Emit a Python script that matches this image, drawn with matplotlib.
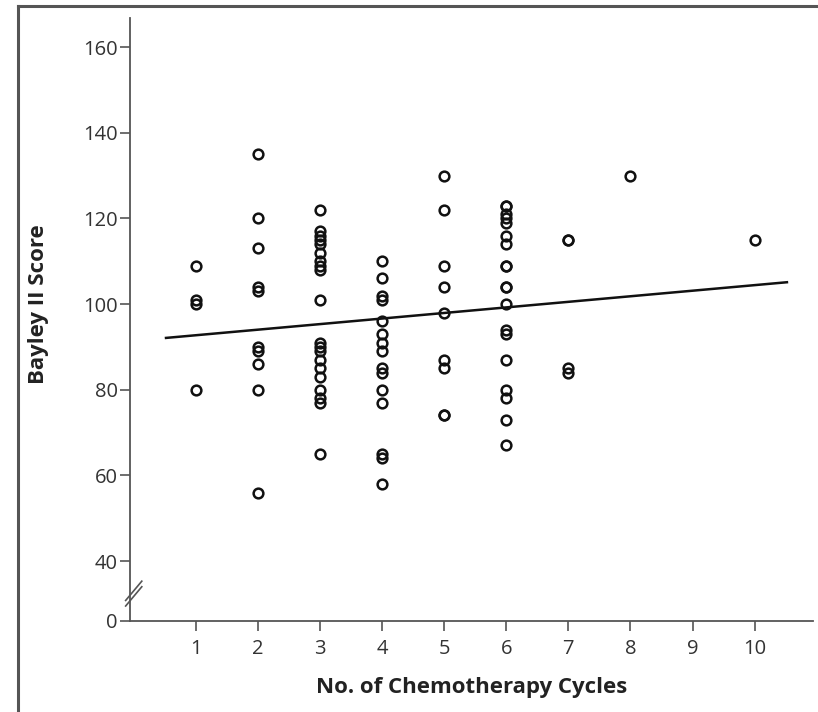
import matplotlib
matplotlib.use("Agg")
import matplotlib.pyplot as plt
from matplotlib.lines import Line2D

plt.rcParams['font.family'] = ['Open Sans', 'DejaVu Sans']

# Bayley II scores per number of chemotherapy cycles
cycles_1 = [109, 101, 100, 80]
cycles_2 = [135, 120, 113, 104, 103, 90, 89, 86, 80, 56]
cycles_3 = [122, 117, 116, 115, 114, 112, 110, 109, 108, 101,
            91, 90, 89, 87, 85, 83, 80, 78, 77, 65]
cycles_4 = [110, 106, 102, 101, 96, 93, 91, 89, 85, 84, 80, 77, 65, 64, 58]
cycles_5 = [130, 122, 109, 104, 98, 87, 85, 74, 74]
cycles_6 = [123, 123, 121, 120, 119, 116, 114, 109, 109, 104, 104, 100,
            94, 93, 87, 80, 78, 73, 67]
cycles_7 = [115, 115, 85, 84]
cycles_8 = [130]
cycles_10 = [115]

groups = {1: cycles_1, 2: cycles_2, 3: cycles_3, 4: cycles_4, 5: cycles_5,
          6: cycles_6, 7: cycles_7, 8: cycles_8, 10: cycles_10}

# regression line end points
fit_x = [0.52, 10.52]
fit_y = [92.1, 105.1]

x_ticks = [1, 2, 3, 4, 5, 6, 7, 8, 9, 10]
y_ticks = [40, 60, 80, 100, 120, 140, 160]
y_zero_pos = 26  # broken axis: "0" drawn just below 40

fig = plt.figure(figsize=(8.18, 7.12), dpi=100)
ax = fig.add_axes([130 / 818, 1 - 621 / 712, 683 / 818, 603 / 712])

for n, scores in groups.items():
    ax.plot([n] * len(scores), scores, 'o', ms=7, mfc='none',
            mec='#111111', mew=1.8, clip_on=False)

ax.plot(fit_x, fit_y, color='#111111', lw=1.8)

ax.set_xlim(-0.06, 10.94)
ax.set_ylim(y_zero_pos, 166.8)
ax.set_xticks(x_ticks)
ax.set_yticks([y_zero_pos] + y_ticks)
ax.set_yticklabels(['0'] + [str(v) for v in y_ticks])

for s in ['top', 'right']:
    ax.spines[s].set_visible(False)
for s in ['left', 'bottom']:
    ax.spines[s].set_color('#555555')
    ax.spines[s].set_linewidth(1.3)

ax.tick_params(axis='both', colors='#555555', length=7, width=1.2,
               labelcolor='#333333', labelsize=14.5)
ax.tick_params(axis='x', pad=6)
ax.tick_params(axis='y', pad=2)

ax.set_xlabel('No. of Chemotherapy Cycles', fontsize=16, fontweight='bold',
              color='#222222', labelpad=13)
ax.set_ylabel('Bayley II Score', fontsize=16, fontweight='bold',
              color='#222222')
ax.yaxis.set_label_coords(-0.118, 0.526)

# axis break slashes
for dy in (0, 1.3):
    ax.plot([-0.13, 0.13], [29.5 + dy, 34.0 + dy], color='#555555', lw=1.2,
            clip_on=False)

# outer frame (left and top)
fig.add_artist(Line2D([18 / 818, 18 / 818], [0, 1 - 6 / 712],
                      color='#555555', lw=2.2))
fig.add_artist(Line2D([18 / 818, 1], [1 - 6 / 712, 1 - 6 / 712],
                      color='#555555', lw=2.2))

fig.savefig('out.png', dpi=100, facecolor='white')
